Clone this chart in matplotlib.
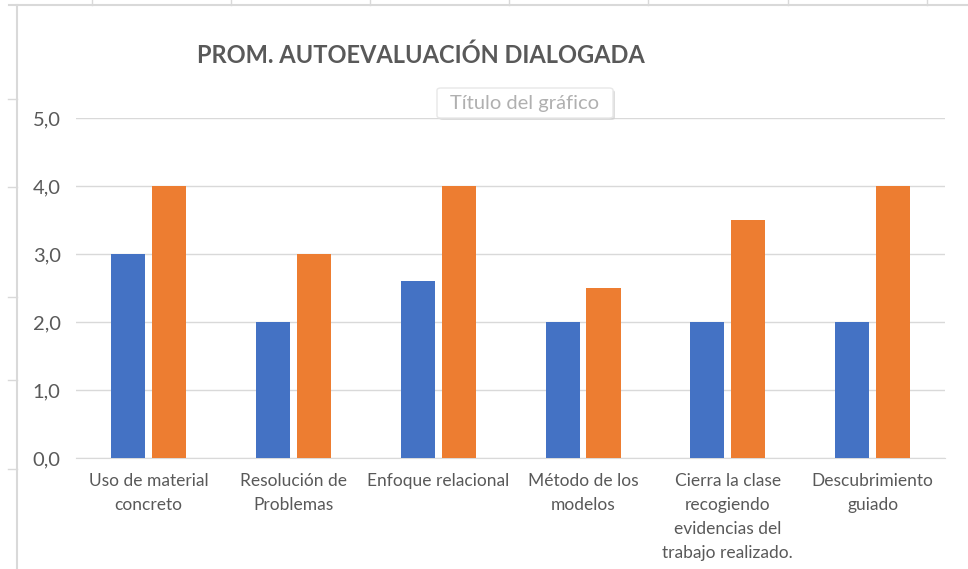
import matplotlib.pyplot as plt
import numpy as np
from matplotlib.lines import Line2D
from matplotlib.patches import FancyBboxPatch

categorias = ["Uso de material\nconcreto", "Resolución de\nProblemas", "Enfoque relacional",
              "Método de los\nmodelos", "Cierra la clase\nrecogiendo\nevidencias del\ntrabajo realizado.",
              "Descubrimiento\nguiado"]
serie_azul = [3.0, 2.0, 2.6, 2.0, 2.0, 2.0]
serie_naranja = [4.0, 3.0, 4.0, 2.5, 3.5, 4.0]
yticks = [0, 1, 2, 3, 4, 5]
ytick_labels = ["0,0", "1,0", "2,0", "3,0", "4,0", "5,0"]

plt.rcParams['font.family'] = ['Lato', 'DejaVu Sans']
W, H = 968, 569
fig = plt.figure(figsize=(W / 100, H / 100), dpi=100)

def px(x, y):
    return x / W, 1 - y / H

# spreadsheet grid around the chart
grid_col = "#d9d9d9"
x0, y0 = px(9, 5); x1, _ = px(968, 5)
fig.add_artist(Line2D([x0, x1], [y0, y0], color=grid_col, lw=1.5))
xa, ya = px(17, 5); _, yb = px(17, 569)
fig.add_artist(Line2D([xa, xa], [ya, yb], color=grid_col, lw=1.5))
for cx in [92, 231, 370, 509, 648, 788, 927]:
    a, b = px(cx, 0); _, c = px(cx, 5)
    fig.add_artist(Line2D([a, a], [b, c], color=grid_col, lw=1))
for ry in [99, 187, 297, 380, 469]:
    a, b = px(8, ry); c, _ = px(17, ry)
    fig.add_artist(Line2D([a, c], [b, b], color=grid_col, lw=1))

ax = fig.add_axes([76 / W, 1 - 458 / H, (945 - 76) / W, (458 - 118) / H])
x = np.arange(len(categorias))
w = 0.235
ax.bar(x - 0.14, serie_azul, w, color="#4472C4", zorder=3)
ax.bar(x + 0.142, serie_naranja, w, color="#ED7D31", zorder=3)

ax.set_xlim(-0.5, len(categorias) - 0.5)
ax.set_ylim(0, 5)
ax.set_yticks(yticks)
ax.set_yticklabels(ytick_labels)
ax.set_xticks(x)
ax.set_xticklabels(categorias, linespacing=1.62)
ax.tick_params(axis='y', length=0, pad=11, labelsize=14.5, labelcolor="#595959")
ax.tick_params(axis='x', length=0, pad=11, labelsize=12.5, labelcolor="#595959")
ax.grid(axis='y', color=grid_col, lw=1, zorder=0)
for s in ["top", "right", "left"]:
    ax.spines[s].set_visible(False)
ax.spines["bottom"].set_color(grid_col)

fig.text(421 / W, 1 - 55 / H, "PROM. AUTOEVALUACIÓN DIALOGADA", ha="center", va="center",
         fontsize=17, fontweight="bold", color="#595959")

# placeholder title box with shadow
bx, by = px(439, 120)
bw, bh = 176 / W, 30 / H
fig.add_artist(FancyBboxPatch((bx, by), bw, bh, boxstyle="round,pad=0,rounding_size=0.004",
                              transform=fig.transFigure, fc="#d0d0d0", ec="none", alpha=0.7))
bx, by = px(437, 118)
fig.add_artist(FancyBboxPatch((bx, by), bw, bh, boxstyle="round,pad=0,rounding_size=0.004",
                              transform=fig.transFigure, fc="white", ec="#e8e8e8", lw=1))
fig.text(525 / W, 1 - 103 / H, "Título del gráfico", ha="center", va="center", fontsize=14.5,
         color="#b0b0b0")

fig.savefig("out.png", dpi=100)
